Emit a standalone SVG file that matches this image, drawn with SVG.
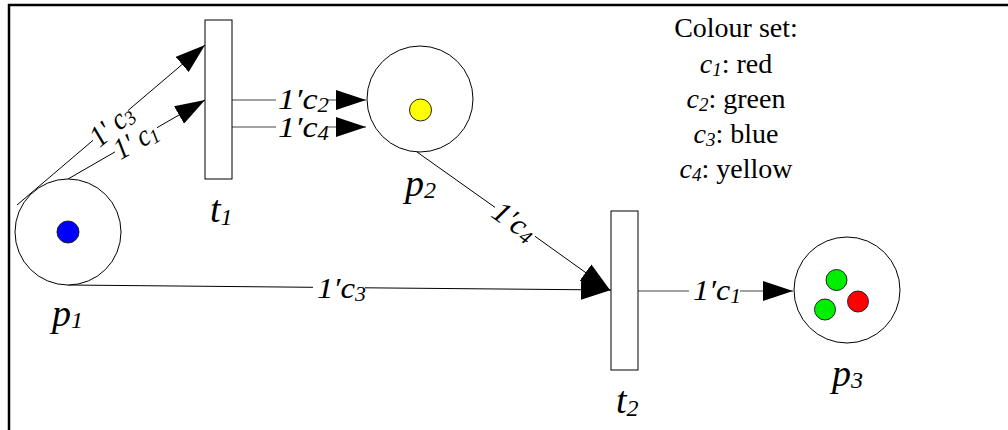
<svg xmlns="http://www.w3.org/2000/svg" width="1008" height="430" viewBox="0 0 1008 430">
<style>
  .place{fill:#fff;stroke:#000;stroke-width:1}
  .trans{fill:#fff;stroke:#000;stroke-width:1}
  .tok{stroke:#222;stroke-width:1}
  .arc{stroke:#000;stroke-width:1;fill:none}
  .arcg{stroke:#444;stroke-width:1;fill:none}
  .lbl{font-family:"Liberation Serif","Times New Roman",serif;font-style:italic;font-size:38px;fill:#000}
  .al{font-family:"Liberation Serif","Times New Roman",serif;font-style:italic;font-size:30px;fill:#000}
  .leg{font-family:"Liberation Serif","Times New Roman",serif;font-size:28px;fill:#000}
  .it{font-style:italic}
</style>
<defs>
  <marker id="arr" markerUnits="userSpaceOnUse" markerWidth="30" markerHeight="20" refX="30" refY="10" orient="auto" viewBox="0 0 30 20">
    <path d="M0,0 L30,10 L0,20 Z" fill="#000"/>
  </marker>
</defs>
<rect width="1008" height="430" fill="#fff"/>
<g id="frame">
  <line x1="8" y1="5" x2="1008" y2="5" stroke="#000" stroke-width="2.5"/>
  <line x1="9" y1="4" x2="9" y2="430" stroke="#000" stroke-width="2.5"/>
</g>
<g id="connectors">
  <line class="arc" x1="17" y1="205" x2="93" y2="140.3"/>
  <line class="arc" x1="128" y1="110.5" x2="205" y2="45" marker-end="url(#arr)"/>
  <line class="arc" x1="68" y1="179" x2="115" y2="151.9"/>
  <line class="arc" x1="157" y1="127.7" x2="205" y2="100" marker-end="url(#arr)"/>
  <line class="arcg" x1="232" y1="100" x2="276" y2="100"/>
  <line class="arcg" x1="328" y1="100" x2="366" y2="100" marker-end="url(#arr)"/>
  <line class="arcg" x1="232" y1="127" x2="276" y2="127"/>
  <line class="arcg" x1="328" y1="127" x2="366" y2="127" marker-end="url(#arr)"/>
  <line class="arc" x1="417" y1="152" x2="495" y2="207.4"/>
  <line class="arc" x1="535" y1="236.3" x2="610" y2="290" marker-end="url(#arr)"/>
  <line class="arc" x1="68" y1="285" x2="313" y2="287.3"/>
  <line class="arc" x1="365" y1="287.8" x2="611" y2="290" marker-end="url(#arr)"/>
  <line class="arcg" x1="638" y1="291" x2="689" y2="291"/>
  <line class="arcg" x1="740" y1="291" x2="793" y2="291" marker-end="url(#arr)"/>
  <text class="al" transform="translate(112,126) rotate(-40)" x="0" y="9" text-anchor="middle" textLength="48" lengthAdjust="spacingAndGlyphs">1' c<tspan font-size="20" dy="3">3</tspan></text>
  <text class="al" transform="translate(136,141) rotate(-30)" x="0" y="9" text-anchor="middle" textLength="46" lengthAdjust="spacingAndGlyphs">1' c<tspan font-size="20" dy="3">1</tspan></text>
  <text class="al" x="278" y="109" textLength="51" lengthAdjust="spacingAndGlyphs">1′c<tspan font-size="20" dy="3">2</tspan></text>
  <text class="al" x="278" y="137" textLength="51" lengthAdjust="spacingAndGlyphs">1′c<tspan font-size="20" dy="3">4</tspan></text>
  <text class="al" transform="translate(514,222) rotate(35.4)" x="0" y="9" text-anchor="middle" textLength="46" lengthAdjust="spacingAndGlyphs">1′c<tspan font-size="20" dy="3">4</tspan></text>
  <text class="al" x="317" y="298" textLength="49" lengthAdjust="spacingAndGlyphs">1′c<tspan font-size="20" dy="3">3</tspan></text>
  <text class="al" x="693" y="300" textLength="48" lengthAdjust="spacingAndGlyphs">1′c<tspan font-size="20" dy="3">1</tspan></text>
</g>
<g id="p1">
  <circle class="place" cx="68" cy="232" r="53"/>
  <circle class="tok" cx="68" cy="232" r="11" fill="#0000ff"/>
  <text class="lbl" x="52" y="326">p<tspan font-size="24" dy="2">1</tspan></text>
</g>
<g id="t1">
  <rect class="trans" x="205" y="20" width="27" height="159"/>
  <text class="lbl" x="210" y="222">t<tspan font-size="24" dy="3">1</tspan></text>
</g>
<g id="p2">
  <circle class="place" cx="420" cy="99" r="53"/>
  <circle class="tok" cx="420.5" cy="110" r="11" fill="#ffff00"/>
  <text class="lbl" x="405" y="196">p<tspan font-size="24" dy="2">2</tspan></text>
</g>
<g id="t2">
  <rect class="trans" x="611" y="211" width="27" height="159"/>
  <text class="lbl" x="616" y="413">t<tspan font-size="24" dy="3">2</tspan></text>
</g>
<g id="p3">
  <circle class="place" cx="847" cy="290" r="53"/>
  <circle class="tok" cx="836.5" cy="280" r="10.5" fill="#00ee00"/>
  <circle class="tok" cx="825" cy="309.5" r="10.5" fill="#00ee00"/>
  <circle class="tok" cx="858" cy="301.5" r="10.5" fill="#ff0000"/>
  <text class="lbl" x="832" y="386">p<tspan font-size="24" dy="2">3</tspan></text>
</g>
<g id="legend">
  <text class="leg" x="736" y="37" text-anchor="middle">Colour set:</text>
  <text class="leg" x="736" y="73" text-anchor="middle"><tspan class="it">c</tspan><tspan class="it" font-size="19" dy="3">1</tspan><tspan dy="-3">: red</tspan></text>
  <text class="leg" x="736" y="108" text-anchor="middle"><tspan class="it">c</tspan><tspan class="it" font-size="19" dy="3">2</tspan><tspan dy="-3">: green</tspan></text>
  <text class="leg" x="736" y="143" text-anchor="middle"><tspan class="it">c</tspan><tspan class="it" font-size="19" dy="3">3</tspan><tspan dy="-3">: blue</tspan></text>
  <text class="leg" x="736" y="178" text-anchor="middle"><tspan class="it">c</tspan><tspan class="it" font-size="19" dy="3">4</tspan><tspan dy="-3">: yellow</tspan></text>
</g>
</svg>
